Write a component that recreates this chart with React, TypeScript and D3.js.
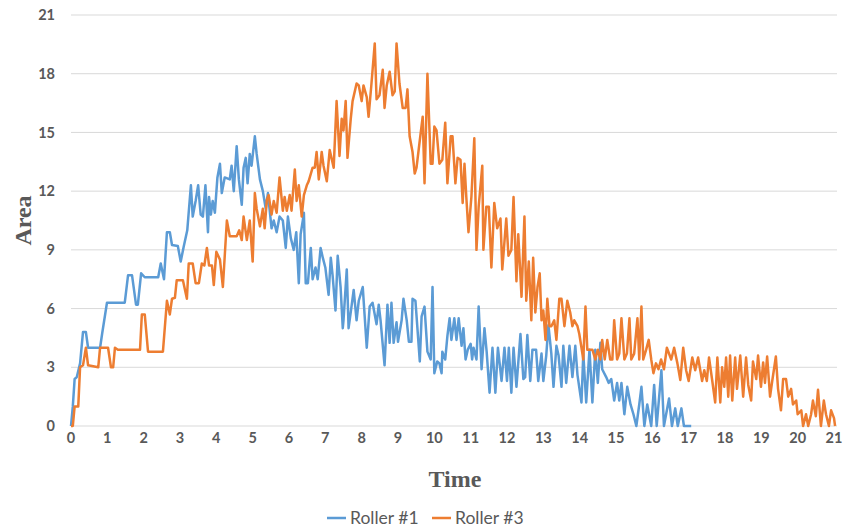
import * as d3 from 'd3';

// Roller #1 readings: [time, area]
const rollerOne: [number, number][] = [
  [0, 0], [0.05, 1.0], [0.1, 2.4], [0.16, 2.5], [0.25, 3.2], [0.33, 4.8], [0.41, 4.8], [0.47, 4.0],
  [0.8, 4.0], [0.86, 4.75], [0.99, 6.3], [1.48, 6.3], [1.57, 7.7], [1.68, 7.7], [1.79, 6.2], [1.84, 6.2],
  [1.93, 7.8], [2.03, 7.6], [2.4, 7.6], [2.47, 8.3], [2.56, 7.5], [2.64, 9.9], [2.72, 9.9], [2.78, 9.25],
  [2.94, 9.2], [3.02, 8.4], [3.1, 9.15], [3.2, 10.0], [3.3, 12.3], [3.35, 10.7], [3.43, 11.5], [3.5, 12.3],
  [3.57, 10.8], [3.63, 10.7], [3.7, 12.3], [3.77, 9.9], [3.8, 11.7], [3.85, 10.8], [3.9, 11.5], [3.96, 10.9],
  [4.03, 12.7], [4.1, 13.4], [4.15, 11.9], [4.23, 12.7], [4.37, 12.6], [4.42, 13.3], [4.48, 12.0], [4.56, 14.3],
  [4.62, 12.6], [4.7, 11.3], [4.75, 13.2], [4.81, 13.7], [4.86, 12.4], [4.92, 13.9], [4.97, 13.3], [5.06, 14.8],
  [5.11, 13.9], [5.2, 12.6], [5.28, 12.0], [5.36, 11.1], [5.42, 11.9], [5.52, 10.1], [5.58, 10.5], [5.66, 9.9],
  [5.74, 10.7], [5.83, 10.5], [5.91, 9.1], [5.97, 10.7], [6.05, 9.6], [6.13, 9.0], [6.2, 9.9], [6.27, 7.3],
  [6.32, 9.8], [6.38, 10.5], [6.41, 10.9], [6.46, 7.3], [6.52, 7.3], [6.6, 9.1], [6.65, 7.5], [6.73, 8.1],
  [6.79, 7.5], [6.87, 9.1], [6.93, 8.6], [7.0, 8.1], [7.09, 6.7], [7.15, 8.6], [7.2, 7.7], [7.28, 5.9],
  [7.34, 8.7], [7.42, 7.1], [7.48, 5.0], [7.5, 5.4], [7.59, 8.0], [7.64, 5.0], [7.72, 6.1], [7.78, 6.95],
  [7.86, 5.4], [7.92, 6.4], [8.03, 7.1], [8.14, 4.0], [8.22, 6.1], [8.3, 6.3], [8.41, 5.2], [8.47, 6.2],
  [8.52, 5.4], [8.63, 3.1], [8.71, 6.2], [8.77, 4.25], [8.82, 6.3], [8.88, 4.25], [8.96, 5.3], [9.0, 4.3],
  [9.1, 5.4], [9.15, 6.5], [9.24, 5.4], [9.3, 4.3], [9.37, 4.3], [9.4, 6.5], [9.48, 6.4], [9.6, 3.3],
  [9.65, 5.6], [9.73, 6.1], [9.81, 3.8], [9.9, 3.4], [9.95, 7.1], [10.0, 2.7], [10.08, 3.3], [10.14, 3.2],
  [10.2, 2.7], [10.22, 3.8], [10.3, 3.4], [10.36, 4.6], [10.42, 5.5], [10.47, 4.4], [10.55, 5.5], [10.61, 4.4],
  [10.67, 5.5], [10.75, 4.1], [10.8, 5.0], [10.86, 3.4], [10.92, 3.9], [11.0, 4.2], [11.04, 3.4], [11.08, 4.0],
  [11.16, 3.4], [11.22, 6.1], [11.3, 2.9], [11.38, 5.0], [11.44, 3.8], [11.52, 1.7], [11.6, 4.0], [11.68, 1.7],
  [11.75, 4.0], [11.85, 2.3], [11.93, 4.0], [12.0, 2.3], [12.05, 4.0], [12.12, 1.7], [12.18, 4.0], [12.26, 2.0],
  [12.37, 4.7], [12.45, 2.4], [12.5, 2.5], [12.56, 4.65], [12.64, 2.3], [12.7, 3.9], [12.8, 3.9], [12.86, 2.3],
  [12.95, 3.7], [13.0, 2.3], [13.08, 3.6], [13.14, 5.15], [13.22, 3.7], [13.28, 2.0], [13.36, 4.1], [13.42, 3.6],
  [13.5, 2.0], [13.55, 4.1], [13.63, 2.2], [13.72, 4.1], [13.8, 2.5], [13.88, 4.1], [13.94, 2.6], [14.05, 1.2],
  [14.1, 3.7], [14.18, 1.2], [14.27, 3.9], [14.35, 1.2], [14.43, 3.9], [14.5, 2.2], [14.57, 4.25], [14.62, 2.9],
  [14.73, 2.5], [14.8, 2.2], [14.87, 2.4], [14.95, 1.3], [15.03, 2.2], [15.09, 1.3], [15.15, 2.2], [15.23, 0.6],
  [15.31, 2.0], [15.4, 1.1], [15.48, 0.6], [15.56, 0], [15.64, 1.1], [15.7, 2.0], [15.78, 0], [15.86, 1.1],
  [15.97, 0], [16.05, 2.1], [16.12, 0], [16.25, 2.85], [16.32, 0], [16.46, 1.4], [16.54, 0], [16.63, 0.9],
  [16.7, 0], [16.8, 0.9], [16.87, 0], [17.07, 0],
];

// Roller #3 readings: [time, area]
const rollerThree: [number, number][] = [
  [0, 0], [0.05, 0], [0.1, 1.0], [0.2, 1.0], [0.25, 3.0], [0.33, 3.1], [0.41, 4.0], [0.47, 3.1],
  [0.75, 3.0], [0.8, 4.0], [1.02, 4.0], [1.1, 3.0], [1.16, 3.0], [1.21, 4.0], [1.29, 3.9], [1.9, 3.9],
  [1.95, 5.7], [2.03, 5.7], [2.12, 3.8], [2.53, 3.8], [2.64, 6.4], [2.72, 5.7], [2.78, 6.5], [2.86, 6.55],
  [2.91, 7.45], [3.08, 7.45], [3.19, 6.5], [3.24, 8.3], [3.35, 8.3], [3.43, 7.3], [3.52, 7.3], [3.6, 8.3],
  [3.67, 8.2], [3.74, 9.1], [3.8, 8.2], [3.88, 8.2], [3.93, 7.2], [4.0, 8.9], [4.1, 8.5], [4.18, 7.1],
  [4.29, 10.5], [4.37, 9.7], [4.56, 9.7], [4.63, 10.0], [4.7, 9.5], [4.75, 10.7], [4.84, 9.5], [4.92, 10.5],
  [5.0, 8.4], [5.06, 11.9], [5.11, 11.1], [5.2, 10.2], [5.28, 11.1], [5.33, 10.1], [5.39, 11.55], [5.44, 11.8],
  [5.52, 10.8], [5.58, 11.5], [5.66, 10.9], [5.74, 12.7], [5.83, 11.0], [5.88, 11.7], [5.94, 11.0], [6.02, 11.8],
  [6.07, 11.0], [6.16, 13.1], [6.21, 11.5], [6.27, 12.3], [6.35, 10.7], [6.41, 11.8], [6.49, 12.3], [6.54, 12.5],
  [6.65, 13.2], [6.71, 13.2], [6.76, 14.0], [6.82, 12.6], [6.9, 14.0], [6.95, 13.3], [7.04, 12.5], [7.12, 14.1],
  [7.23, 13.2], [7.31, 16.6], [7.39, 13.8], [7.45, 15.7], [7.5, 15.1], [7.56, 16.6], [7.61, 13.7], [7.7, 15.7],
  [7.75, 16.6], [7.86, 17.5], [7.92, 17.4], [8.0, 16.6], [8.05, 17.4], [8.14, 16.8], [8.19, 15.8], [8.27, 17.5],
  [8.36, 19.55], [8.41, 16.7], [8.49, 16.9], [8.58, 18.2], [8.63, 16.25], [8.69, 17.4], [8.77, 18.1], [8.85, 16.9],
  [8.91, 17.1], [8.96, 19.55], [9.04, 17.5], [9.13, 16.25], [9.21, 16.25], [9.26, 17.2], [9.32, 14.8], [9.4, 14.0],
  [9.46, 12.9], [9.51, 13.2], [9.6, 14.6], [9.68, 15.8], [9.73, 12.4], [9.81, 18.0], [9.9, 13.4], [9.95, 13.4],
  [10.0, 15.3], [10.06, 15.1], [10.14, 13.4], [10.22, 13.6], [10.3, 15.5], [10.36, 12.4], [10.45, 14.8], [10.5, 14.8],
  [10.58, 12.4], [10.64, 13.7], [10.72, 13.6], [10.78, 11.4], [10.83, 13.4], [10.88, 11.7], [10.94, 9.9], [11.02, 11.7],
  [11.1, 14.7], [11.16, 9.0], [11.22, 11.2], [11.32, 13.3], [11.35, 9.0], [11.43, 11.2], [11.5, 11.2], [11.57, 8.1],
  [11.65, 11.4], [11.73, 10.1], [11.82, 10.6], [11.87, 8.0], [11.98, 10.6], [12.04, 8.7], [12.12, 9.0], [12.18, 11.7],
  [12.26, 7.4], [12.31, 9.8], [12.4, 6.6], [12.48, 10.7], [12.53, 6.4], [12.6, 8.4], [12.67, 5.4], [12.72, 8.6],
  [12.78, 5.8], [12.84, 7.1], [12.9, 7.8], [12.95, 5.4], [13.0, 5.9], [13.06, 4.4], [13.11, 6.5], [13.17, 5.1],
  [13.22, 5.1], [13.3, 5.4], [13.36, 4.4], [13.44, 6.5], [13.5, 6.5], [13.58, 5.1], [13.66, 6.4], [13.74, 5.8],
  [13.8, 5.1], [13.85, 5.4], [13.94, 5.1], [13.99, 4.7], [14.05, 4.0], [14.1, 3.4], [14.16, 6.1], [14.21, 3.9],
  [14.35, 3.9], [14.43, 3.4], [14.5, 3.9], [14.57, 3.4], [14.62, 4.4], [14.69, 3.4], [14.76, 4.4], [14.84, 3.4],
  [14.9, 3.4], [14.95, 5.4], [15.03, 3.4], [15.09, 3.7], [15.15, 5.5], [15.23, 3.4], [15.3, 3.7], [15.37, 5.5],
  [15.42, 3.4], [15.5, 3.7], [15.59, 5.5], [15.64, 3.4], [15.7, 6.1], [15.75, 3.4], [15.83, 3.9], [15.9, 4.4],
  [15.97, 3.4], [16.03, 2.7], [16.1, 3.2], [16.17, 2.9], [16.24, 3.4], [16.32, 2.9], [16.4, 4.0], [16.52, 3.4],
  [16.6, 4.0], [16.69, 3.2], [16.77, 2.35], [16.85, 4.0], [16.93, 2.85], [17.0, 2.3], [17.1, 3.5], [17.18, 2.85],
  [17.26, 3.5], [17.37, 2.3], [17.43, 2.85], [17.5, 2.3], [17.56, 3.5], [17.65, 2.3], [17.73, 1.2], [17.79, 3.5],
  [17.87, 1.2], [17.92, 3.0], [17.98, 2.0], [18.03, 3.5], [18.09, 1.5], [18.14, 3.6], [18.2, 1.3], [18.28, 3.5],
  [18.33, 1.9], [18.42, 3.6], [18.5, 1.5], [18.58, 3.5], [18.64, 2.1], [18.72, 1.3], [18.77, 3.3], [18.86, 2.4],
  [18.91, 3.6], [18.99, 2.0], [19.05, 3.25], [19.1, 2.2], [19.16, 3.55], [19.24, 1.5], [19.3, 2.3], [19.4, 3.55],
  [19.46, 1.9], [19.54, 0.8], [19.6, 2.4], [19.68, 2.4], [19.74, 1.5], [19.82, 1.9], [19.87, 1.1], [19.96, 1.3],
  [20.0, 0.6], [20.1, 0.8], [20.15, 0], [20.23, 0.6], [20.29, 0], [20.37, 0.6], [20.42, 1.3], [20.5, 0.5],
  [20.56, 1.85], [20.64, 0], [20.72, 1.3], [20.78, 0.6], [20.86, 0], [20.92, 0.8], [21.0, 0.4], [21.03, 0],
];

const xTicks = d3.range(0, 22);
const yTicks = [0, 3, 6, 9, 12, 15, 18, 21];

const seriesNames = ['Roller #1', 'Roller #3'];
const seriesColors = ['#5b9bd5', '#ed7d31'];

const W = 853;
const H = 531;
const margin = { left: 71, right: 19, top: 15, bottom: 105 };

export default function App() {
  const x = d3.scaleLinear().domain([0, 21]).range([margin.left, W - margin.right]);
  const y = d3.scaleLinear().domain([0, 21]).range([H - margin.bottom, margin.top]);

  const line = d3
    .line<[number, number]>()
    .x(d => x(d[0]))
    .y(d => y(d[1]));

  const tickFont = { fontFamily: 'Lato, sans-serif', fontWeight: 700, fontSize: 14.5, fill: '#595959' };

  return (
    <svg width={W} height={H} style={{ position: 'absolute', left: 0, top: 0, background: '#fff' }}>
      {yTicks.map(t => (
        <g key={'y' + t}>
          <line x1={x(0)} x2={x(21) + 3} y1={y(t)} y2={y(t)} stroke="#d9d9d9" strokeWidth={1} />
          <text x={55} y={y(t)} dy="0.35em" textAnchor="end" {...tickFont}>
            {t}
          </text>
        </g>
      ))}
      {xTicks.map(t => (
        <text key={'x' + t} x={x(t)} y={y(0) + 17} textAnchor="middle" {...tickFont}>
          {t}
        </text>
      ))}

      <path d={line(rollerOne) ?? ''} fill="none" stroke={seriesColors[0]} strokeWidth={2.5} strokeLinejoin="round" />
      <path d={line(rollerThree) ?? ''} fill="none" stroke={seriesColors[1]} strokeWidth={2.5} strokeLinejoin="round" />

      <text
        x={455}
        y={487}
        textAnchor="middle"
        fontFamily="'Liberation Serif', 'Times New Roman', serif"
        fontWeight={700}
        fontSize={24}
        fill="#595959"
      >
        Time
      </text>
      <text
        transform={`translate(31, ${(y(0) + y(21)) / 2}) rotate(-90)`}
        textAnchor="middle"
        fontFamily="'Liberation Serif', 'Times New Roman', serif"
        fontWeight={700}
        fontSize={24}
        fill="#595959"
      >
        Area
      </text>

      {seriesNames.map((name, i) => (
        <g key={name} transform={`translate(${327 + i * 105}, 518)`}>
          <line x1={0} x2={19} y1={0} y2={0} stroke={seriesColors[i]} strokeWidth={2.5} />
          <text x={23} y={0} dy="0.35em" fontFamily="Lato, sans-serif" fontSize={17.5} fill="#595959">
            {name}
          </text>
        </g>
      ))}
    </svg>
  );
}
